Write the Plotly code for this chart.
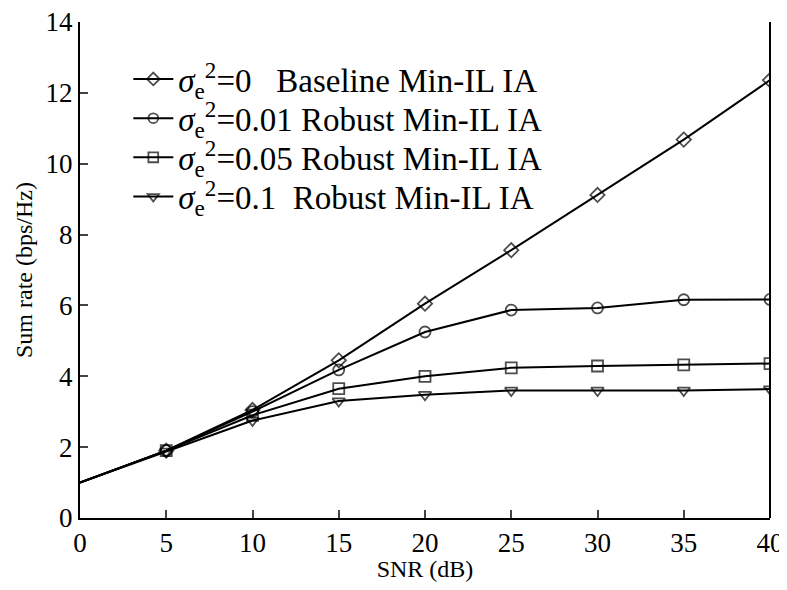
import plotly.graph_objects as go

snr = [0, 5, 10, 15, 20, 25, 30, 35, 40]
baseline = [1.0, 1.9, 3.05, 4.45, 6.05, 7.56, 9.12, 10.68, 12.36]
robust_001 = [1.0, 1.9, 3.0, 4.18, 5.25, 5.87, 5.93, 6.16, 6.17]
robust_005 = [1.0, 1.9, 2.9, 3.65, 4.0, 4.24, 4.29, 4.32, 4.36]
robust_01 = [1.0, 1.88, 2.75, 3.3, 3.48, 3.6, 3.6, 3.6, 3.64]

names = [
    "<i>σ</i><sub>e</sub><sup>2</sup>=0   Baseline Min-IL IA",
    "<i>σ</i><sub>e</sub><sup>2</sup>=0.01 Robust Min-IL IA",
    "<i>σ</i><sub>e</sub><sup>2</sup>=0.05 Robust Min-IL IA",
    "<i>σ</i><sub>e</sub><sup>2</sup>=0.1  Robust Min-IL IA",
]
series = [baseline, robust_001, robust_005, robust_01]
symbols = ["diamond-open", "circle-open", "square-open", "triangle-down-open"]
legend_ids = ["legend", "legend2", "legend3", "legend4"]
legend_rows = [0.885, 0.806, 0.727, 0.648]

font = "Liberation Serif, Times New Roman, serif"

fig = go.Figure()
for nm, ys, sym, lg in zip(names, series, symbols, legend_ids):
    sizes = [0] + [11] * (len(snr) - 1)
    fig.add_trace(go.Scatter(
        x=snr, y=ys, name=nm, mode="lines+markers", legend=lg,
        line=dict(color="black", width=2),
        marker=dict(symbol=sym, size=sizes, color="black", line=dict(width=1.8, color="black")),
    ))

legend_layout = {}
for lg, yy in zip(legend_ids, legend_rows):
    legend_layout[lg] = dict(x=0.07, y=yy, xanchor="left", yanchor="middle",
                             font=dict(size=33, family=font), bgcolor="rgba(0,0,0,0)",
                             itemwidth=40)

fig.update_layout(
    width=779, height=574,
    margin=dict(l=72, r=17, t=14, b=64),
    paper_bgcolor="white", plot_bgcolor="white",
    font=dict(family=font, color="black"),
    showlegend=True,
    **legend_layout,
    xaxis=dict(range=[0, 40], tickvals=snr, ticks="inside", ticklen=8, tickwidth=1.5,
               showline=True, linecolor="black", linewidth=2, mirror=False,
               showgrid=False, zeroline=False, tickfont=dict(size=27), automargin=False,
               ticklabeloverflow="allow",
               title=dict(text="SNR (dB)", font=dict(size=24), standoff=0)),
    yaxis=dict(range=[0, 14], dtick=2, ticks="inside", ticklen=8, tickwidth=1.5,
               showline=True, linecolor="black", linewidth=2, mirror=False,
               showgrid=False, zeroline=False, tickfont=dict(size=27), automargin=False,
               ticklabeloverflow="allow",
               title=dict(text="Sum rate (bps/Hz)", font=dict(size=24), standoff=6)),
)
# right frame line
fig.add_shape(type="line", xref="paper", yref="paper", x0=1, x1=1, y0=0, y1=1,
              line=dict(color="black", width=2))

fig.write_html("out.html")
